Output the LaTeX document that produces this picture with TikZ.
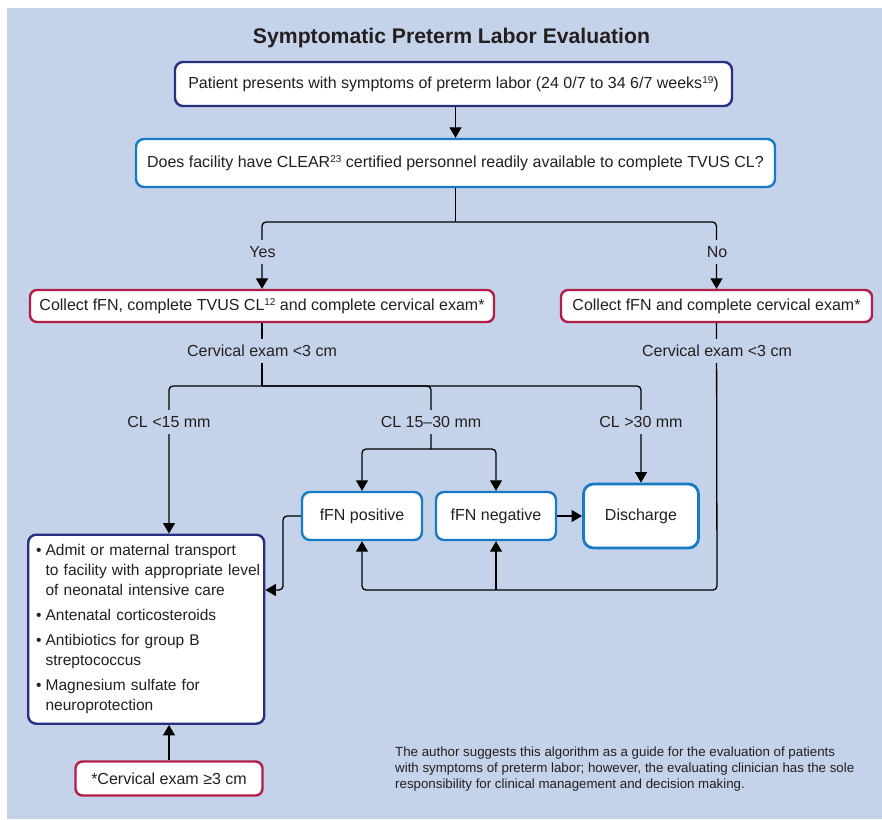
\documentclass[tikz,border=0pt]{standalone}
\usepackage{fontspec}
\setmainfont{Liberation Sans}
\usetikzlibrary{arrows.meta}
\definecolor{bgblue}{RGB}{197,211,234}
\definecolor{navy}{RGB}{40,46,128}
\definecolor{cyanblue}{RGB}{24,122,196}
\definecolor{crimson}{RGB}{178,30,74}
\definecolor{ink}{RGB}{35,31,32}
% small raised reference numbers
\newcommand{\refnum}[1]{\raisebox{5.5pt}{\fontsize{10}{10}\selectfont #1}}

\begin{document}
\begin{tikzpicture}[x=1pt,y=-1pt,
  base/.style={font=\fontsize{16}{20}\selectfont, text=ink},
  box/.style={base, draw, fill=white, line width=2.4pt, rounded corners=8pt, inner sep=0pt, align=center},
  navybox/.style={box, draw=navy},
  bluebox/.style={box, draw=cyanblue},
  redbox/.style={box, draw=crimson, rounded corners=7pt},
  lbl/.style={base, fill=bgblue, inner xsep=3pt, inner ysep=6pt},
  link/.style={line width=1.3pt, draw=black, rounded corners=4pt},
  arr/.style={link, -{Triangle[width=12pt,length=10.5pt]}},
]
\useasboundingbox (0,0) rectangle (882,819);
\fill[bgblue] (7,8) rectangle (882,819);

% title
\node[font=\bfseries\fontsize{21.2}{25}\selectfont, text=ink] (title) at (451.5,38) {Symptomatic Preterm Labor Evaluation};

% boxes
\node[navybox, minimum width=557pt, minimum height=44pt] (start) at (453.5,84)
  {Patient presents with symptoms of preterm labor (24 0/7 to 34 6/7 weeks\refnum{19})};
\node[bluebox, minimum width=639pt, minimum height=48pt] (clear) at (455.5,163)
  {Does facility have CLEAR\refnum{23} certified personnel readily available to complete TVUS CL?};
\node[redbox, minimum width=464pt, minimum height=32pt] (yesbox) at (262,306)
  {Collect fFN, complete TVUS CL\refnum{12} and complete cervical exam*};
\node[redbox, minimum width=311pt, minimum height=32pt] (nobox) at (716.5,306)
  {Collect fFN and complete cervical exam*};
\node[bluebox, minimum width=120pt, minimum height=48pt] (pos) at (362,516) {fFN positive};
\node[bluebox, minimum width=120pt, minimum height=48pt] (neg) at (496,516) {fFN negative};
\node[bluebox, minimum width=115pt, minimum height=64pt, rounded corners=10pt, line width=2.8pt] (dis) at (641,516) {Discharge};
\node[navybox, font=\fontsize{15.5}{20}\selectfont, anchor=north west, minimum width=236pt, minimum height=189pt,
      inner xsep=8pt, text width=220pt, align=left] (act) at (27,533.5)
  {\begin{tabular}{@{}l@{\hspace{4pt}}l@{}}
   \textbullet & Admit or maternal transport\\
               & to facility with appropriate level\\
               & of neonatal intensive care\\[5pt]
   \textbullet & Antenatal corticosteroids\\[5pt]
   \textbullet & Antibiotics for group B\\
               & streptococcus\\[5pt]
   \textbullet & Magnesium sulfate for\\
               & neuroprotection
   \end{tabular}};
\node[redbox, minimum width=187pt, minimum height=34pt] (note) at (169,778.5) {*Cervical exam ≥3 cm};

% branch points
\coordinate (s1) at (455.5,222);
\coordinate (s2) at (262,386);
\coordinate (s3) at (431,449);
\coordinate (j1) at (283,590);
\coordinate (j2) at (717,590);

% connectors
\draw[arr] (start.south -| clear.north) -- (clear.north);
\draw[link] (clear.south) -- (s1);
\draw[arr] (s1) -| (yesbox.north);
\draw[arr] (s1) -| (nobox.north);
\draw[link] (yesbox.south) -- (s2);
\draw[arr] (s2) -| (act.north -| note.north);
\draw[arr] (s2) -| (dis.north);
\draw[link] (s2) -| (s3);
\draw[arr] (s3) -| (pos.north);
\draw[arr] (s3) -| (neg.north);
\draw[arr] (neg.east) -- (dis.west);
\draw[arr] (pos.west) -| (j1) -- (act.east |- j1);
\draw[arr] (nobox.south) -- (j2) -| (pos.south);
\draw[arr] (neg.south |- j2) -- (neg.south);
\draw[arr] (note.north) -- (act.south -| note.north);

% connector labels
\node[lbl] (yes) at (262.5,252) {Yes};
\node[lbl] (no) at (717,252) {No};
\node[lbl] (ce1) at (262,351) {Cervical exam <3 cm};
\node[lbl] (ce2) at (717,351) {Cervical exam <3 cm};
\node[lbl] (cl1) at (169,422) {CL <15 mm};
\node[lbl] (cl2) at (431,422) {CL 15–30 mm};
\node[lbl] (cl3) at (641,422) {CL >30 mm};

% disclaimer
\node[font=\fontsize{13.3}{16}\selectfont, text=ink, anchor=north west, align=left, inner sep=0pt] (disc) at (395,747)
  {The author suggests this algorithm as a guide for the evaluation of patients\\
   with symptoms of preterm labor; however, the evaluating clinician has the sole\\
   responsibility for clinical management and decision making.};
\end{tikzpicture}
\end{document}
